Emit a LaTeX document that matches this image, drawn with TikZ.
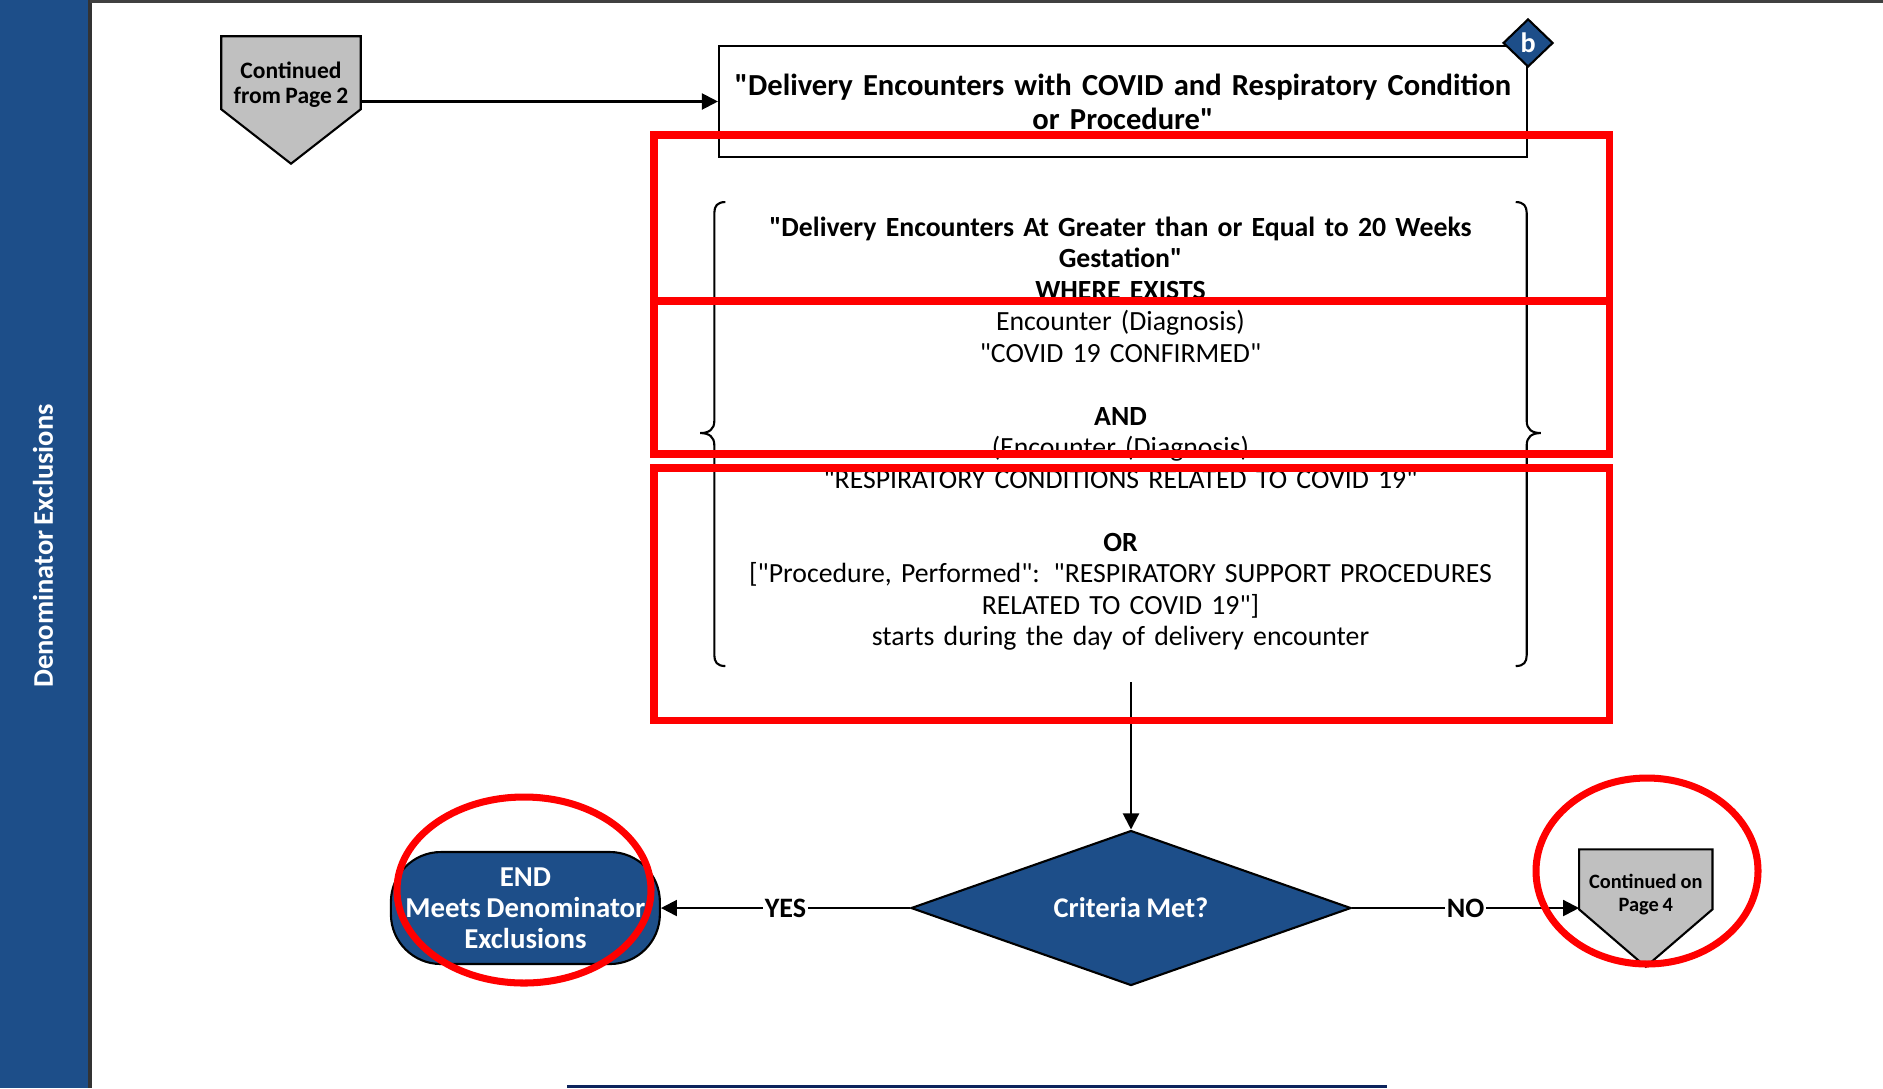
\documentclass[tikz,border=0pt]{standalone}
\usepackage{fontspec}
\setmainfont{Carlito}[Ligatures=TeXOff, WordSpace=0.85]
\usepackage{tikz}
\usetikzlibrary{shapes.geometric, arrows.meta, positioning, calc}
\definecolor{laneblue}{RGB}{29,78,137}
\definecolor{connectorfill}{RGB}{192,192,192}
\definecolor{footernavy}{RGB}{12,36,92}
\definecolor{markred}{RGB}{255,0,0}
\tikzset{
    block/.style={
        rectangle,
        draw=black,
        line width=0.6pt,
        fill=white,
        text centered,
        align=center,
        inner xsep=0.09cm,
        font=\fontsize{8.7}{9.7}\selectfont\bfseries
    },
    criteriatext/.style={
        rectangle,
        align=center,
        text width=7.9cm,
        inner xsep=0.105cm,
        minimum height=4.96cm,
        font=\fontsize{7.9}{8.96}\selectfont
    },
    decision/.style={
        diamond,
        draw=black,
        line width=0.6pt,
        fill=laneblue,
        text=white,
        shape aspect=2.84,
        minimum width=4.4cm,
        minimum height=1.55cm,
        inner sep=0pt,
        font=\fontsize{8.1}{9.6}\selectfont\bfseries
    },
    terminator/.style={
        rectangle,
        rounded corners=0.5cm,
        draw=black,
        line width=0.6pt,
        fill=laneblue,
        text=white,
        align=center,
        minimum width=2.69cm,
        minimum height=1.12cm,
        inner sep=0pt,
        font=\fontsize{8.2}{8.8}\selectfont\bfseries
    },
    offpage/.style={
        rectangle,
        inner sep=0pt
    },
    offtext/.style={
        align=center,
        inner sep=0pt,
        font=\fontsize{6.7}{7.1}\selectfont\bfseries
    },
    pentagon/.style={
        draw=black,
        line width=0.6pt,
        fill=connectorfill
    },
    refmark/.style={
        diamond,
        draw=black,
        line width=0.6pt,
        fill=laneblue,
        text=white,
        minimum width=0.5cm,
        minimum height=0.48cm,
        inner sep=0pt,
        font=\fontsize{8}{9}\selectfont\bfseries
    },
    lanetitle/.style={
        text=white,
        font=\fontsize{8.1}{9.6}\selectfont\bfseries
    },
    connection/.style={
        draw=black,
        line width=0.6pt,
        -{Triangle[length=0.16cm, width=0.16cm]}
    },
    flowlabel/.style={
        fill=white,
        inner sep=0.5pt,
        font=\fontsize{8}{9.6}\selectfont\bfseries
    },
    brace/.style={
        draw=black,
        line width=0.6pt
    },
    annotation/.style={
        draw=markred,
        line width=2pt
    }
}

\begin{document}
\begin{tikzpicture}
\useasboundingbox (0,0) rectangle (18.83,-10.88);

% Swim lane
\fill[laneblue] (0,0) rectangle (0.9,-10.88);
\draw[line width=0.9pt, black!80] (0.9,0) -- (0.9,-10.88);
\draw[line width=0.8pt, black!75] (0.9,-0.015) -- (18.83,-0.015);
\node[lanetitle, rotate=90] (lane) at (0.43,-5.46) {Denominator Exclusions};
\draw[line width=0.035cm, footernavy] (5.67,-10.865) -- (13.87,-10.865);

% Off-page connector in
\node[offpage, minimum width=1.38cm, minimum height=1.26cm] (from2) at (2.91,-1.00) {};
\filldraw[pentagon] (from2.north west) -- (from2.north east) -- ([yshift=-0.73cm]from2.north east)
    -- (from2.south) -- ([yshift=-0.73cm]from2.north west) -- cycle;
\node[offtext] (from2txt) at ([yshift=0.155cm]from2.center) {Continued\\from Page 2};

% Blocks
\node[block, minimum width=8.08cm, minimum height=1.11cm, text width=7.9cm] (topbox) at (11.23,-1.015)
    {"Delivery Encounters with COVID and Respiratory Condition\\or Procedure"};
\node[refmark] (bmark) at ([yshift=0.02cm]topbox.north east) {b};

\node[criteriatext, below=0.27cm of topbox, xshift=-0.025cm] (group) {%
    \textbf{"Delivery Encounters At Greater than or Equal to 20 Weeks}\\
    \textbf{Gestation"}\\
    \textbf{WHERE EXISTS}\\
    Encounter (Diagnosis)\\
    "COVID 19 CONFIRMED"\\[8.96pt]
    \textbf{AND}\\
    (Encounter (Diagnosis)\\
    "RESPIRATORY CONDITIONS RELATED TO COVID 19"\\[8.96pt]
    \textbf{OR}\\
    {[}"Procedure, Performed": "RESPIRATORY SUPPORT PROCEDURES\\
    RELATED TO COVID 19"]\\
    starts during the day of delivery encounter};

% Braces
\draw[brace] ([shift={(0.11,-0.17)}]group.north west) .. controls +(-0.08,0) and +(0,0.07) .. ++(-0.11,-0.11)
    -- ++(0,-2.08) .. controls +(0,-0.08) and +(0.09,0) .. ++(-0.14,-0.12)
    .. controls +(0.09,0) and +(0,0.08) .. ++(0.14,-0.12)
    -- ++(0,-2.10) .. controls +(0,-0.07) and +(-0.08,0) .. ++(0.11,-0.11);
\draw[brace] ([shift={(-0.11,-0.17)}]group.north east) .. controls +(0.08,0) and +(0,0.07) .. ++(0.11,-0.11)
    -- ++(0,-2.08) .. controls +(0,-0.08) and +(-0.09,0) .. ++(0.14,-0.12)
    .. controls +(-0.09,0) and +(0,0.08) .. ++(-0.14,-0.12)
    -- ++(0,-2.10) .. controls +(0,-0.07) and +(0.08,0) .. ++(-0.11,-0.11);

% Decision and outcomes
\node[decision, below=1.47cm of group, xshift=0.105cm] (crit) {Criteria Met?};
\node[terminator, left=2.49cm of crit] (endnode) {END\\Meets Denominator\\Exclusions};
\node[offpage, minimum width=1.32cm, minimum height=1.16cm, right=2.27cm of crit] (to4) {};
\filldraw[pentagon] (to4.north west) -- (to4.north east) -- ([yshift=-0.60cm]to4.north east)
    -- (to4.south) -- ([yshift=-0.60cm]to4.north west) -- cycle;
\node[offtext, font=\fontsize{5.8}{6.6}\selectfont\bfseries] (to4txt) at ([yshift=0.135cm]to4.center) {Continued on\\Page 4};

% Transitions
\draw[connection] (from2.east |- topbox.west) -- (topbox.west);
\draw[connection] (crit.north |- group.south) -- (crit.north);
\draw[connection] (crit.west) -- node[flowlabel] {YES} (endnode.east);
\draw[connection] (crit.east) -- node[flowlabel] {NO} (to4.west);

% Review marks
\draw[annotation] (6.54,-1.35) rectangle (16.09,-3.01);
\draw[annotation] (6.54,-3.01) rectangle (16.09,-4.54);
\draw[annotation] (6.54,-4.68) rectangle (16.09,-7.20);
\draw[annotation] (5.24,-8.90) ellipse [x radius=1.27, y radius=0.93];
\draw[annotation] (16.47,-8.71) ellipse [x radius=1.11, y radius=0.93];

\end{tikzpicture}
\end{document}
